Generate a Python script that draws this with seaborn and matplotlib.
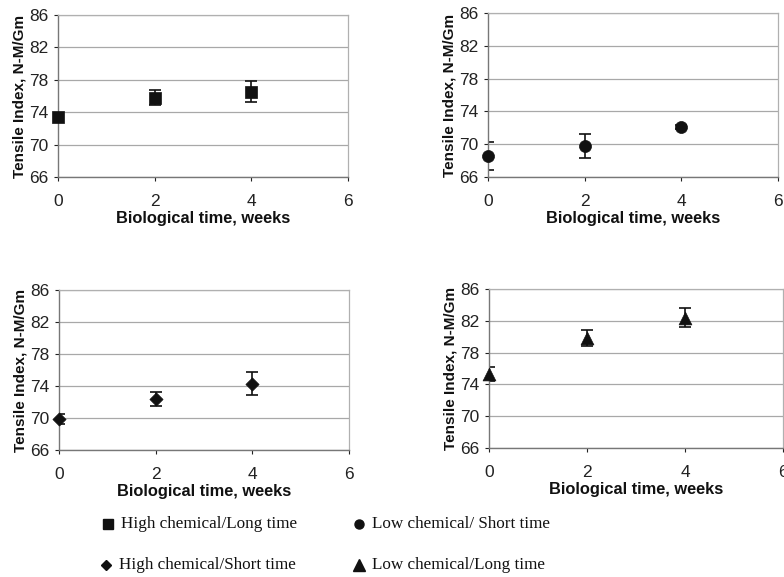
import numpy as np
import pandas as pd
import matplotlib
matplotlib.use("Agg")
import matplotlib.pyplot as plt
import seaborn as sns

# weeks of biological treatment
weeks = [0, 2, 4]

# tensile index means and error bars
high_long = [73.4, 75.8, 76.5]
high_long_err = [0.2, 0.9, 1.3]
low_short = [68.6, 69.8, 72.1]
low_short_err = [1.7, 1.5, 0.2]
high_short = [69.9, 72.4, 74.3]
high_short_err = [0.6, 0.9, 1.4]
low_long = [75.3, 79.8, 82.4]
low_long_err = [0.9, 1.0, 1.2]

series_names = ["High chemical/Long time", "Low chemical/ Short time",
                "High chemical/Short time", "Low chemical/Long time"]
y_ticks = [66, 70, 74, 78, 82, 86]
x_ticks = [0, 2, 4, 6]

sns.set_theme(style="white")
plt.rcParams["font.family"] = ["Liberation Sans", "DejaVu Sans"]

fig = plt.figure(figsize=(7.84, 5.77), dpi=100)
W, H = 784, 577


def box(l, r, t, b):
    return [l / W, (H - b) / H, (r - l) / W, (b - t) / H]


panels = [
    (box(58, 348, 15, 177), high_long, high_long_err, "s", 70),
    (box(488, 778, 13, 177), low_short, low_short_err, "o", 75),
    (box(59, 349, 290, 450), high_short, high_short_err, "D", 45),
    (box(489, 783, 289, 448), low_long, low_long_err, "^", 85),
]

for rect, vals, errs, mk, sz in panels:
    ax = fig.add_axes(rect)
    df = pd.DataFrame({"week": weeks, "ti": vals, "err": errs})
    ax.errorbar(df["week"], df["ti"], yerr=df["err"], fmt="none",
                ecolor="#111111", elinewidth=1.2, capsize=4.5, capthick=1.2, zorder=2)
    sns.scatterplot(data=df, x="week", y="ti", marker=mk, s=sz, color="#111111",
                    edgecolor="#111111", linewidth=0.5, ax=ax, zorder=3, clip_on=False)
    ax.set_xlim(0, 6)
    ax.set_ylim(66, 86)
    ax.set_xticks(x_ticks)
    ax.set_yticks(y_ticks)
    ax.grid(axis="y", color="#a8a8a8", linewidth=0.9)
    ax.set_axisbelow(True)
    for side in ["top", "right"]:
        ax.spines[side].set_color("#b0b0b0")
        ax.spines[side].set_linewidth(0.9)
    for side in ["left", "bottom"]:
        ax.spines[side].set_color("#777777")
        ax.spines[side].set_linewidth(1.0)
    ax.tick_params(axis="both", labelsize=12.5, colors="#222222", length=3,
                   width=0.8, direction="out", pad=4, left=True, bottom=True)
    ax.tick_params(axis="x", pad=9)
    ax.set_xlabel("Biological time, weeks", fontsize=11.8, fontweight="bold",
                  color="#111111", labelpad=2)
    ax.set_ylabel("Tensile Index, N-M/Gm", fontsize=11, fontweight="bold",
                  color="#111111", labelpad=2)

# legend text at the bottom, serif like the source
legend_items = [
    (108, 524, "s", series_names[0]),
    (359, 524, "o", series_names[1]),
    (106, 565, "D", series_names[2]),
    (359, 565, "^", series_names[3]),
]
lax = fig.add_axes([0, 0, 1, 1])
lax.set_xlim(0, W)
lax.set_ylim(H, 0)
lax.axis("off")
for x, y, mk, name in legend_items:
    msz = {"s": 7, "o": 6.5, "D": 5, "^": 8}[mk]
    lax.plot([x], [y], marker=mk, markersize=msz, color="#111111", linestyle="none")
    lax.text(x + 13, y, name, fontsize=12.3, family="Liberation Serif",
             va="center", ha="left", color="#111111")

fig.savefig("out.png", dpi=100)
